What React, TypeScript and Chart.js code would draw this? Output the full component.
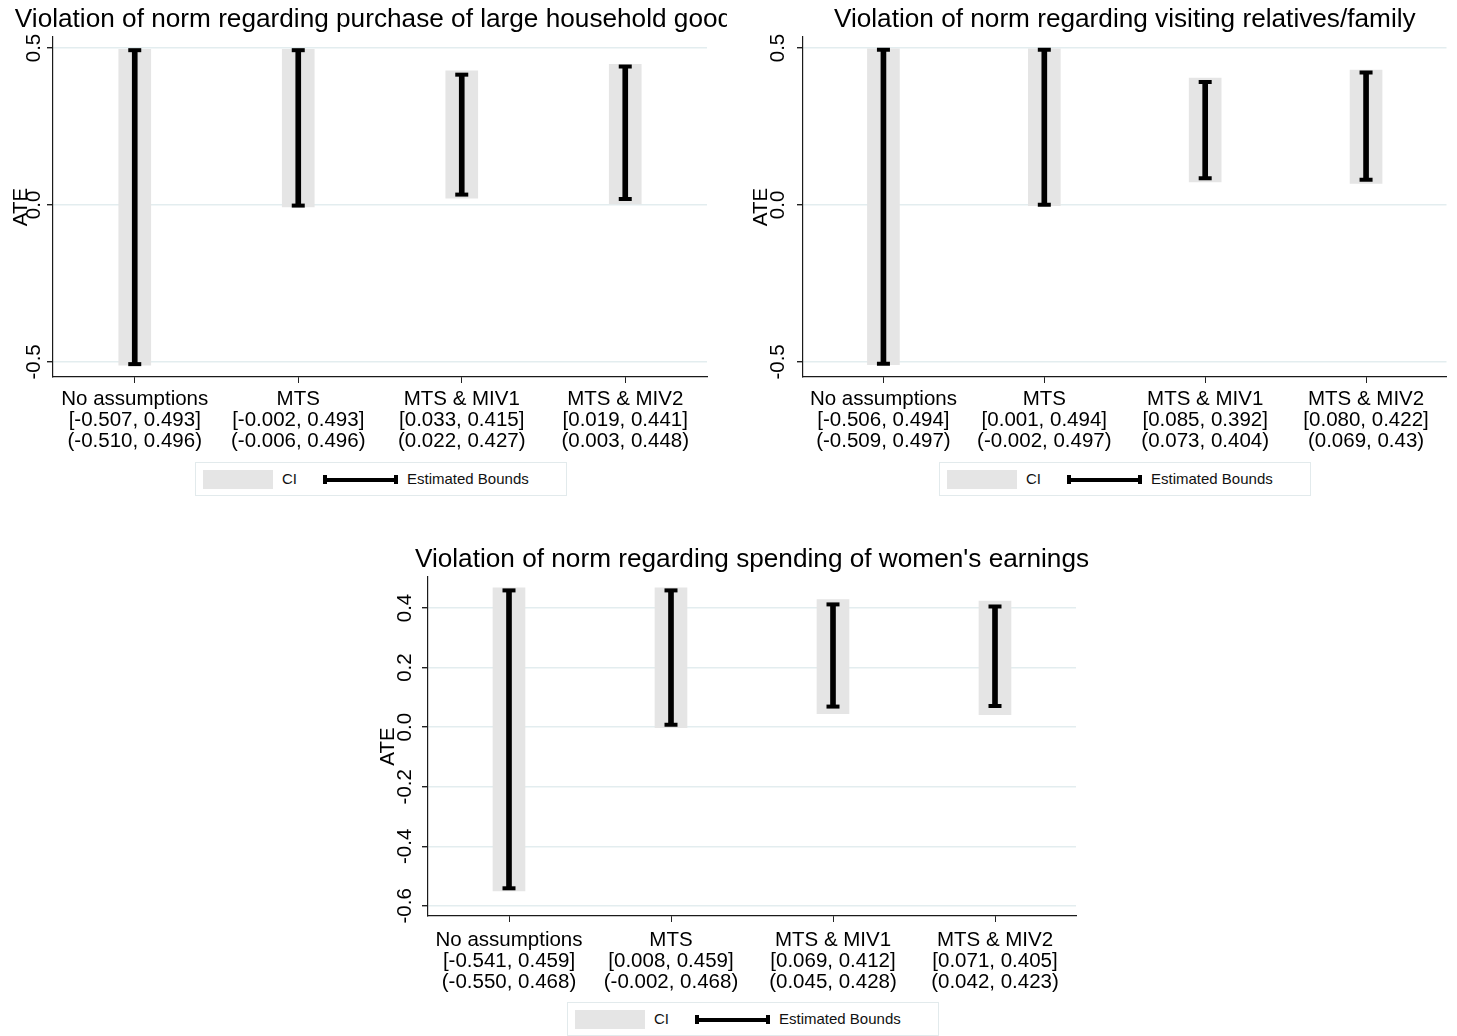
import React, { useEffect, useRef } from "react";
import { Chart, registerables } from "chart.js";
Chart.register(...registerables);

const FONT = '"Liberation Sans", Arial, Helvetica, sans-serif';

const categories = ["No assumptions", "MTS", "MTS & MIV1", "MTS & MIV2"];
const xPositions = [1, 2, 3, 4];

// Panel 1
const title1 = "Violation of norm regarding purchase of large household goods";
const boundLo1 = [-0.507, -0.002, 0.033, 0.019];
const boundHi1 = [0.493, 0.493, 0.415, 0.441];
const ciLo1 = [-0.51, -0.006, 0.022, 0.003];
const ciHi1 = [0.496, 0.496, 0.427, 0.448];
const boundText1 = ["[-0.507, 0.493]", "[-0.002, 0.493]", "[0.033, 0.415]", "[0.019, 0.441]"];
const ciText1 = ["(-0.510, 0.496)", "(-0.006, 0.496)", "(0.022, 0.427)", "(0.003, 0.448)"];

// Panel 2
const title2 = "Violation of norm regarding visiting relatives/family";
const boundLo2 = [-0.506, 0.001, 0.085, 0.08];
const boundHi2 = [0.494, 0.494, 0.392, 0.422];
const ciLo2 = [-0.509, -0.002, 0.073, 0.069];
const ciHi2 = [0.497, 0.497, 0.404, 0.43];
const boundText2 = ["[-0.506, 0.494]", "[0.001, 0.494]", "[0.085, 0.392]", "[0.080, 0.422]"];
const ciText2 = ["(-0.509, 0.497)", "(-0.002, 0.497)", "(0.073, 0.404)", "(0.069, 0.43)"];

// Panel 3
const title3 = "Violation of norm regarding spending of women's earnings";
const boundLo3 = [-0.541, 0.008, 0.069, 0.071];
const boundHi3 = [0.459, 0.459, 0.412, 0.405];
const ciLo3 = [-0.55, -0.002, 0.045, 0.042];
const ciHi3 = [0.468, 0.468, 0.428, 0.423];
const boundText3 = ["[-0.541, 0.459]", "[0.008, 0.459]", "[0.069, 0.412]", "[0.071, 0.405]"];
const ciText3 = ["(-0.550, 0.468)", "(-0.002, 0.468)", "(0.045, 0.428)", "(0.042, 0.423)"];

const yTicksTop = [-0.5, 0, 0.5];
const yTicksBottom = [-0.6, -0.4, -0.2, 0, 0.2, 0.4];
const yTitle = "ATE";
const legendCI = "CI";
const legendBounds = "Estimated Bounds";

type PanelCfg = {
  left: number; top: number; width: number; height: number;
  padLeft: number; padTop: number; padRight: number; xAxisHeight: number;
  yMin: number; yMax: number; yTicks: number[];
  title: string; titleBaseline: number; tickOffset: number; ateOffset: number; labelPad: number;
  boundLo: number[]; boundHi: number[]; ciLo: number[]; ciHi: number[];
  boundText: string[]; ciText: string[];
};

function Panel({ cfg }: { cfg: PanelCfg }) {
  const ref = useRef<HTMLCanvasElement | null>(null);
  useEffect(() => {
    if (!ref.current) return;
    const overlay = {
      id: "overlay",
      afterDraw(chart: any) {
        const { ctx, chartArea } = chart;
        const ys = chart.scales.y;
        ctx.save();
        ctx.fillStyle = "#000";
        ctx.font = `26.2px ${FONT}`;
        ctx.textAlign = "center";
        ctx.textBaseline = "alphabetic";
        ctx.fillText(cfg.title, (chartArea.left + chartArea.right) / 2, cfg.titleBaseline);
        ctx.font = `20.5px ${FONT}`;
        ctx.textBaseline = "middle";
        ys.ticks.forEach((t: any) => {
          const y = ys.getPixelForValue(t.value);
          ctx.save();
          ctx.translate(chartArea.left - cfg.tickOffset, y);
          ctx.rotate(-Math.PI / 2);
          ctx.fillText(Number(t.value).toFixed(1), 0, 0);
          ctx.restore();
        });
        ctx.save();
        ctx.translate(chartArea.left - cfg.ateOffset, (chartArea.top + chartArea.bottom) / 2);
        ctx.rotate(-Math.PI / 2);
        ctx.fillText(yTitle, 0, 0);
        ctx.restore();
        ctx.restore();
      },
    };
    const labels = categories.map((c, i) => [c, cfg.boundText[i], cfg.ciText[i]]);
    const chart = new Chart(ref.current, {
      type: "bar",
      data: {
        datasets: [
          {
            type: "scatter",
            order: 0,
            data: xPositions.flatMap((x, i) => [
              { x, y: cfg.boundLo[i] },
              { x, y: cfg.boundHi[i] },
            ]),
            pointStyle: "line",
            pointRadius: 6.5,
            pointBorderWidth: 4,
            borderColor: "#000",
            backgroundColor: "#000",
            showLine: false,
          } as any,
          {
            type: "bar",
            order: 1,
            grouped: false,
            data: xPositions.map((x, i) => ({ x, y: [cfg.boundLo[i], cfg.boundHi[i]] })),
            backgroundColor: "#000",
            borderWidth: 0,
            barThickness: 5,
          } as any,
          {
            type: "bar",
            order: 2,
            grouped: false,
            data: xPositions.map((x, i) => ({ x, y: [cfg.ciLo[i], cfg.ciHi[i]] })),
            backgroundColor: "#e5e5e5",
            borderWidth: 0,
            barThickness: 32,
          } as any,
        ],
      },
      options: {
        responsive: false,
        maintainAspectRatio: false,
        animation: false,
        events: [],
        layout: { padding: { left: cfg.padLeft, top: cfg.padTop, right: cfg.padRight, bottom: 0 } },
        plugins: { legend: { display: false }, tooltip: { enabled: false }, title: { display: false } },
        scales: {
          x: {
            type: "linear",
            min: 0.5,
            max: 4.5,
            offset: false,
            afterBuildTicks: (s: any) => { s.ticks = xPositions.map((v) => ({ value: v })); },
            afterFit: (s: any) => { s.height = cfg.xAxisHeight; },
            grid: { display: true, drawOnChartArea: false, drawTicks: true, tickLength: 6, tickColor: "#222", offset: false },
            border: { display: true, color: "#1a1a1a", width: 1.2 },
            ticks: {
              autoSkip: false,
              maxRotation: 0,
              minRotation: 0,
              padding: cfg.labelPad,
              color: "#000",
              font: { family: FONT, size: 20.5, lineHeight: "21px" },
              callback: (v: any) => labels[Number(v) - 1] ?? "",
            },
          },
          y: {
            type: "linear",
            min: cfg.yMin,
            max: cfg.yMax,
            afterBuildTicks: (s: any) => { s.ticks = cfg.yTicks.map((v) => ({ value: v })); },
            afterFit: (s: any) => { s.width = 6; },
            grid: { display: true, drawOnChartArea: true, color: "#e3edef", lineWidth: 1.4, drawTicks: true, tickLength: 6, tickColor: "#222" },
            border: { display: true, color: "#1a1a1a", width: 1.2 },
            ticks: { display: false },
          },
        },
      } as any,
      plugins: [overlay as any],
    });
    return () => chart.destroy();
  }, [cfg]);
  return (
    <canvas
      ref={ref}
      width={cfg.width}
      height={cfg.height}
      style={{ position: "absolute", left: cfg.left, top: cfg.top, width: cfg.width, height: cfg.height }}
    />
  );
}

function Legend({ left, top }: { left: number; top: number }) {
  return (
    <div
      style={{
        position: "absolute", left, top, width: 372, height: 34, boxSizing: "border-box",
        border: "1px solid #e2eaec", background: "#fff", fontFamily: FONT, fontSize: 15, color: "#111",
      }}
    >
      <div style={{ position: "absolute", left: 7, top: 7, width: 70, height: 19, background: "#e5e5e5" }} />
      <div style={{ position: "absolute", left: 86, top: 0, lineHeight: "32px" }}>{legendCI}</div>
      <div style={{ position: "absolute", left: 127, top: 15, width: 75, height: 4, background: "#000" }} />
      <div style={{ position: "absolute", left: 127, top: 12, width: 4, height: 9, background: "#000" }} />
      <div style={{ position: "absolute", left: 198, top: 12, width: 4, height: 9, background: "#000" }} />
      <div style={{ position: "absolute", left: 211, top: 0, lineHeight: "32px" }}>{legendBounds}</div>
    </div>
  );
}

const panel1: PanelCfg = {
  left: 0, top: 0, width: 727, height: 500,
  padLeft: 47, padTop: 37, padRight: 20, xAxisHeight: 123,
  yMin: -0.548, yMax: 0.535, yTicks: yTicksTop,
  title: title1, titleBaseline: 27, tickOffset: 19, ateOffset: 32, labelPad: 6,
  boundLo: boundLo1, boundHi: boundHi1, ciLo: ciLo1, ciHi: ciHi1, boundText: boundText1, ciText: ciText1,
};
const panel2: PanelCfg = {
  left: 730, top: 0, width: 727, height: 500,
  padLeft: 67, padTop: 37, padRight: 10, xAxisHeight: 123,
  yMin: -0.548, yMax: 0.535, yTicks: yTicksTop,
  title: title2, titleBaseline: 27, tickOffset: 25, ateOffset: 41.5, labelPad: 6,
  boundLo: boundLo2, boundHi: boundHi2, ciLo: ciLo2, ciHi: ciHi2, boundText: boundText2, ciText: ciText2,
};
const panel3: PanelCfg = {
  left: 350, top: 535, width: 756, height: 500,
  padLeft: 72, padTop: 42, padRight: 30, xAxisHeight: 119,
  yMin: -0.634, yMax: 0.504, yTicks: yTicksBottom,
  title: title3, titleBaseline: 32, tickOffset: 23, ateOffset: 40, labelPad: 8,
  boundLo: boundLo3, boundHi: boundHi3, ciLo: ciLo3, ciHi: ciHi3, boundText: boundText3, ciText: ciText3,
};

export default function App() {
  return (
    <div style={{ position: "absolute", left: 0, top: 0, width: 1457, height: 1036, background: "#fff", overflow: "hidden" }}>
      <Panel cfg={panel1} />
      <Panel cfg={panel2} />
      <Panel cfg={panel3} />
      <Legend left={195} top={462} />
      <Legend left={939} top={462} />
      <Legend left={567} top={1002} />
    </div>
  );
}
